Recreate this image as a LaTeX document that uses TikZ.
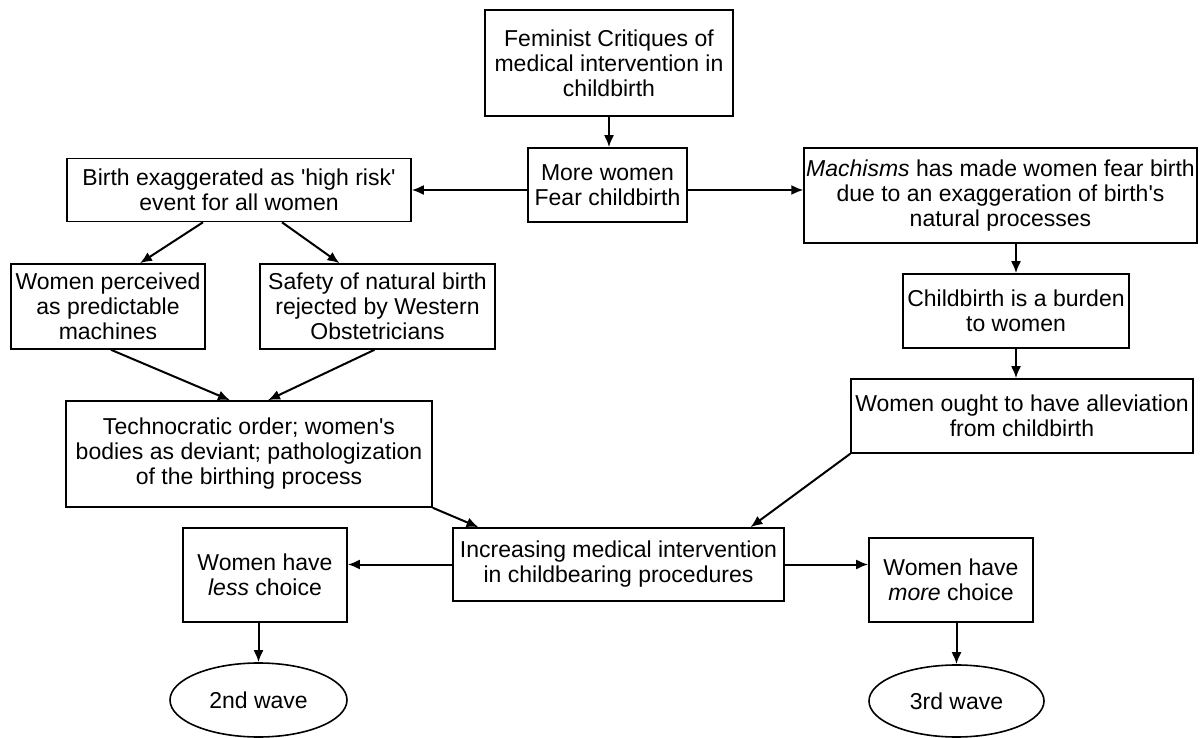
\documentclass[tikz,border=0pt]{standalone}
\usepackage{fontspec}
\setmainfont{Liberation Sans}
\usetikzlibrary{shapes.geometric, arrows.meta}
\tikzset{
  box/.style={draw, line width=0.8pt, align=center, inner sep=1pt,
    font=\fontsize{11.5}{12.5}\selectfont},
  wave/.style={box, ellipse},
  arr/.style={-{Latex[length=6pt,width=5pt]}, line width=1pt}
}
\newcommand{\apos}{\textquotesingle}
\begin{document}
\begin{tikzpicture}[x=0.5pt, y=-0.5pt]
  \useasboundingbox (0,0) rectangle (1201,738);
  % top of the chart
  \node[box, minimum width=124pt, minimum height=53pt] (crit) at (609,63)
    {Feminist Critiques of\\ medical intervention in\\ childbirth};
  \node[box, minimum width=79.5pt, minimum height=37pt] (fear) at (607.5,185)
    {More women\\ Fear childbirth};
  \node[box, minimum width=172pt, minimum height=31.5pt] (risk) at (239,190)
    {Birth exaggerated as \apos high risk\apos\\ event for all women};
  \node[box, minimum width=194.5pt, minimum height=47.5pt] (mach) at (1000.5,195.5)
    {\textit{Machisms} has made women fear birth\\ due to an exaggeration of birth\apos s\\ natural processes};
  % left branch
  \node[box, minimum width=97pt, minimum height=42.5pt] (mach1) at (108,306.5)
    {Women perceived\\ as predictable\\ machines};
  \node[box, minimum width=117.5pt, minimum height=42.5pt] (safe) at (377.5,306.5)
    {Safety of natural birth\\ rejected by Western\\ Obstetricians};
  \node[box, minimum width=183pt, minimum height=53pt] (tech) at (249,454)
    {Technocratic order; women\apos s\\ bodies as deviant; pathologization\\ of the birthing process};
  % right branch
  \node[box, minimum width=113pt, minimum height=37pt] (burden) at (1016,311)
    {Childbirth is a burden\\ to women};
  \node[box, minimum width=171pt, minimum height=37pt] (ought) at (1022,416)
    {Women ought to have alleviation\\ from childbirth};
  % bottom of the chart
  \node[box, minimum width=165.5pt, minimum height=36.5pt] (incr) at (618.5,564.5)
    {Increasing medical intervention\\ in childbearing procedures};
  \node[box, minimum width=82pt, minimum height=47pt] (less) at (265,575)
    {Women have\\ \textit{less} choice};
  \node[box, minimum width=82pt, minimum height=42pt] (more) at (951,580)
    {Women have\\ \textit{more} choice};
  \node[wave, minimum width=88.5pt, minimum height=37pt] (w2) at (258.5,700) {2nd wave};
  \node[wave, minimum width=87.5pt, minimum height=36pt] (w3) at (956.5,701) {3rd wave};

  \draw[arr] (crit.south) -- (crit.south |- fear.north);
  \draw[arr] (fear.west |- risk.east) -- (risk.east);
  \draw[arr] (fear.east |- risk.east) -- (mach.west |- risk.east);
  \draw[arr] ([xshift=-18pt]risk.south) -- ([xshift=16pt]mach1.north);
  \draw[arr] ([xshift=21.5pt]risk.south) -- ([xshift=-19pt]safe.north);
  \draw[arr] ([xshift=1.5pt]mach1.south) -- ([xshift=-9.5pt]tech.north);
  \draw[arr] ([xshift=-1.5pt]safe.south) -- ([xshift=9.5pt]tech.north);
  \draw[arr] (mach.south -| burden.north) -- (burden.north);
  \draw[arr] (burden.south) -- (burden.south |- ought.north);
  \draw[arr] (ought.south west) -- ([xshift=66pt]incr.north);
  \draw[arr] (tech.south east) -- ([xshift=-70pt]incr.north);
  \draw[arr] (incr.west) -- (incr.west -| less.east);
  \draw[arr] (incr.east) -- (incr.east -| more.west);
  \draw[arr] (less.south -| w2.north) -- (w2.north);
  \draw[arr] (more.south -| w3.north) -- (w3.north);
\end{tikzpicture}
\end{document}
